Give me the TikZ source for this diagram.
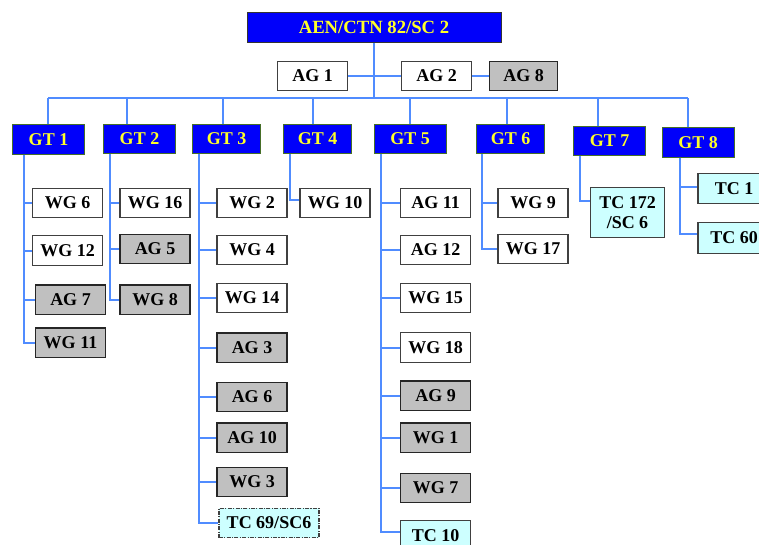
\documentclass[tikz,border=0pt]{standalone}
\usepackage{fontspec}
\setmainfont{Liberation Serif}
\usepackage{tikz}

\definecolor{boxblue}{RGB}{0,0,250}
\definecolor{boxyellow}{RGB}{255,255,40}
\definecolor{linkblue}{RGB}{80,140,255}
\definecolor{boxgrey}{RGB}{192,192,192}
\definecolor{boxcyan}{RGB}{205,255,255}
\definecolor{gtedge}{RGB}{70,110,40}

\begin{document}
\begin{tikzpicture}[
    x=0.75pt, y=-0.75pt,
    font=\fontsize{13.5}{15}\selectfont\bfseries,
    box/.style={draw=black!75, line width=0.8pt, align=center, inner sep=0pt, minimum width=52.5pt, minimum height=22pt, fill=white},
    shaded/.style={box, fill=boxgrey, draw=black!85, line width=1pt},
    tcbox/.style={box, fill=boxcyan},
    gtbox/.style={draw=gtedge, line width=0.6pt, fill=boxblue, text=boxyellow, inner sep=0pt, minimum width=54pt, minimum height=22pt},
    topbox/.style={gtbox, draw=black!80, minimum width=190.5pt, minimum height=23pt, font=\fontsize{14}{16}\selectfont\bfseries},
    link/.style={draw=linkblue, line width=1.5pt},
  ]
    \useasboundingbox (0,0) rectangle (759,544);

    \node[topbox] (sc2) at (374,27.5) {AEN/CTN 82/SC 2};
    \node[box] (ag1) at (312.5,76) {AG 1};
    \node[box] (ag2) at (436.5,76) {AG 2};
    \node[shaded, minimum width=51pt] (ag8) at (523.5,76) {AG 8};

    \node[gtbox] (gt1) at (48.5,139.5) {GT 1};
    \node[gtbox] (gt2) at (139.5,139) {GT 2};
    \node[gtbox, minimum width=50.5pt] (gt3) at (226.5,139) {GT 3};
    \node[gtbox, minimum width=50.5pt] (gt4) at (317.5,139) {GT 4};
    \node[gtbox] (gt5) at (410,139) {GT 5};
    \node[gtbox, minimum width=51pt] (gt6) at (510.5,139) {GT 6};
    \node[gtbox] (gt7) at (609.5,141) {GT 7};
    \node[gtbox] (gt8) at (698,142.5) {GT 8};

    \node[box] (wg6) at (67.5,203) {WG 6};
    \node[box] (wg12) at (67.5,250.5) {WG 12};
    \node[shaded] (ag7) at (70.5,299.5) {AG 7};
    \node[shaded] (wg11) at (70.5,342.5) {WG 11};

    \node[box] (wg16) at (155,203) {WG 16};
    \node[shaded] (ag5) at (155,249) {AG 5};
    \node[shaded] (wg8) at (155,299.5) {WG 8};

    \node[box] (wg2) at (252,203) {WG 2};
    \node[box] (wg4) at (252,250) {WG 4};
    \node[box] (wg14) at (252,298) {WG 14};
    \node[shaded] (ag3) at (252,347.5) {AG 3};
    \node[shaded] (ag6) at (252,397) {AG 6};
    \node[shaded] (ag10) at (252,437.5) {AG 10};
    \node[shaded] (wg3) at (252,482) {WG 3};
    \node[tcbox, densely dashdotted, minimum width=75pt] (tc69) at (269,523) {TC 69/SC6};

    \node[box] (wg10) at (335,203) {WG 10};

    \node[box] (ag11) at (435.5,203) {AG 11};
    \node[box] (ag12) at (435.5,250) {AG 12};
    \node[box] (wg15) at (435.5,298) {WG 15};
    \node[box] (wg18) at (435.5,347.5) {WG 18};
    \node[shaded] (ag9) at (435.5,395.5) {AG 9};
    \node[shaded] (wg1) at (435.5,437.5) {WG 1};
    \node[shaded] (wg7) at (435.5,488) {WG 7};
    \node[tcbox] (tc10) at (435.5,535.5) {TC 10};

    \node[box] (wg9) at (533,203) {WG 9};
    \node[box] (wg17) at (533,249) {WG 17};

    \node[tcbox, minimum width=55pt, minimum height=37pt] (tc172) at (627.5,212.5) {TC 172\\/SC 6};

    \node[tcbox, minimum width=54pt, minimum height=23pt] (tc1) at (734,188.5) {TC 1};
    \node[tcbox, minimum width=54pt, minimum height=23pt] (tc60) at (734,238) {TC 60};

    \coordinate (bus) at (374,98);
    \coordinate (d1) at (48,98);
    \coordinate (d2) at (127,98);
    \coordinate (d3) at (223,98);
    \coordinate (d4) at (313,98);
    \coordinate (d5) at (410,98);
    \coordinate (d6) at (507,98);
    \coordinate (d7) at (598,98);
    \coordinate (d8) at (688,98);

    \draw[link] (sc2.south) -- (bus);
    \draw[link] (ag1.east) -- (ag1.east -| bus);
    \draw[link] (ag2.west) -- (ag2.west -| bus);
    \draw[link] (ag2.east) -- (ag8.west);
    \draw[link] (d1) -- (d8);
    \draw[link] (d1) -- (d1 |- gt1.north);
    \draw[link] (d2) -- (d2 |- gt2.north);
    \draw[link] (d3) -- (d3 |- gt3.north);
    \draw[link] (d4) -- (d4 |- gt4.north);
    \draw[link] (d5) -- (d5 |- gt5.north);
    \draw[link] (d6) -- (d6 |- gt6.north);
    \draw[link] (d7) -- (d7 |- gt7.north);
    \draw[link] (d8) -- (d8 |- gt8.north);

    \coordinate (l1) at ([xshift=9pt]gt1.south west);
    \coordinate (l2) at ([xshift=5.25pt]gt2.south west);
    \coordinate (l3) at ([xshift=5.25pt]gt3.south west);
    \coordinate (l4) at ([xshift=5.25pt]gt4.south west);
    \coordinate (l5) at ([xshift=5.25pt]gt5.south west);
    \coordinate (l6) at ([xshift=4.5pt]gt6.south west);
    \coordinate (l7) at ([xshift=5.25pt]gt7.south west);
    \coordinate (l8) at ([xshift=13.5pt]gt8.south west);

    \draw[link] (l1) |- (wg6.west) (l1) |- (wg12.west) (l1) |- (ag7.west) (l1) |- (wg11.west);
    \draw[link] (l2) |- (wg16.west) (l2) |- (ag5.west) (l2) |- (wg8.west);
    \draw[link] (l3) |- (wg2.west) (l3) |- (wg4.west) (l3) |- (wg14.west) (l3) |- (ag3.west)
      (l3) |- (ag6.west) (l3) |- (ag10.west) (l3) |- (wg3.west) (l3) |- (tc69.west);
    \draw[link] (l4) |- ([yshift=2pt]wg10.west);
    \draw[link] (l5) |- (ag11.west) (l5) |- (ag12.west) (l5) |- (wg15.west) (l5) |- (wg18.west)
      (l5) |- (ag9.west) (l5) |- (wg1.west) (l5) |- (wg7.west) (l5) |- ([yshift=2.5pt]tc10.west);
    \draw[link] (l6) |- (wg9.west) (l6) |- (wg17.west);
    \draw[link] (l7) |- ([yshift=9pt]tc172.west);
    \draw[link] (l8) |- ([yshift=1pt]tc1.west) (l8) |- ([yshift=3pt]tc60.west);
  \end{tikzpicture}
\end{document}
